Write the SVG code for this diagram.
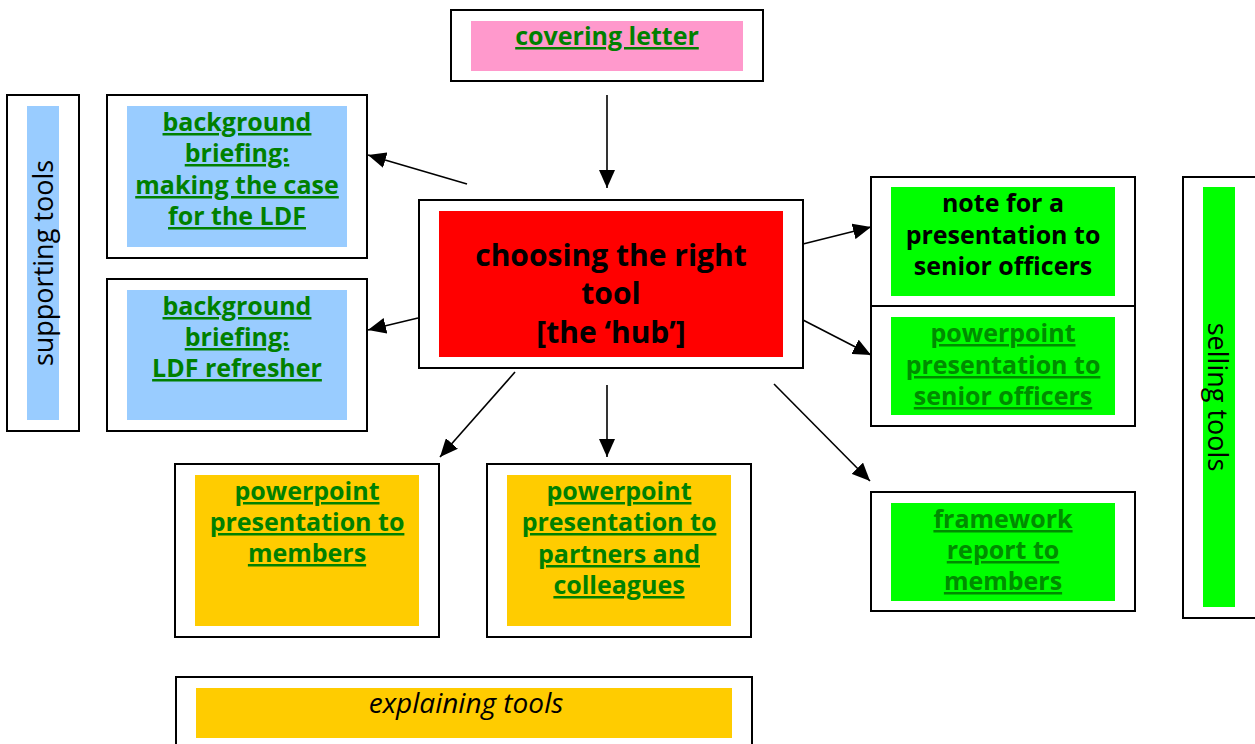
<svg xmlns="http://www.w3.org/2000/svg" width="1255" height="744" viewBox="0 0 1255 744">
<defs>
<style>
.outer{fill:#fff;stroke:#000;stroke-width:2}
.t{font-family:"Open Sans","DejaVu Sans",sans-serif;font-weight:bold;font-size:25px;text-anchor:middle}
.lk{fill:#008000;text-decoration:underline}
.lk2{fill:#008c00;text-decoration:underline}
.blk{fill:#000}
.side{font-family:"Open Sans","DejaVu Sans",sans-serif;font-size:27px;text-anchor:middle;fill:#000}
.conn{stroke:#000;stroke-width:1.6;fill:none;marker-end:url(#ah)}
</style>
<marker id="ah" markerUnits="userSpaceOnUse" viewBox="0 0 18 16" refX="18" refY="8" markerWidth="18" markerHeight="16" orient="auto">
<path d="M0,0 L18,8 L0,16 z" fill="#000"/>
</marker>
</defs>
<rect width="1255" height="744" fill="#fff"/>

<g id="covering-letter">
<rect class="outer" x="451" y="10" width="312" height="71"/>
<rect x="471" y="21" width="272" height="50" fill="#ff99cc"/>
<text class="t lk" x="607" y="45">covering letter</text>
</g>

<g id="supporting-tools">
<rect class="outer" x="7" y="95" width="72" height="336"/>
<rect x="27" y="106" width="32" height="314" fill="#99ccff"/>
<text class="side" transform="translate(53,263) rotate(-90)">supporting tools</text>
</g>

<g id="bg-case">
<rect class="outer" x="107" y="95" width="260" height="163"/>
<rect x="127" y="106" width="220" height="141" fill="#99ccff"/>
<text class="t lk" x="237" y="131">background</text>
<text class="t lk" x="237" y="162">briefing:</text>
<text class="t lk" x="237" y="194">making the case</text>
<text class="t lk" x="237" y="225">for the LDF</text>
</g>

<g id="bg-refresher">
<rect class="outer" x="107" y="279" width="260" height="152"/>
<rect x="127" y="290" width="220" height="130" fill="#99ccff"/>
<text class="t lk" x="237" y="315">background</text>
<text class="t lk" x="237" y="346">briefing:</text>
<text class="t lk" x="237" y="377">LDF refresher</text>
</g>

<g id="hub">
<rect class="outer" x="419" y="200" width="384" height="168"/>
<rect x="439" y="211" width="344" height="146" fill="#ff0000"/>
<text class="t blk" x="611" y="266" style="font-size:30px">choosing the right</text>
<text class="t blk" x="611" y="304" style="font-size:30px">tool</text>
<text class="t blk" x="611" y="343" style="font-size:30px">[the ‘hub’]</text>
</g>

<g id="note-senior">
<rect class="outer" x="871" y="177" width="264" height="129"/>
<rect x="891" y="187" width="224" height="109" fill="#00ff00"/>
<text class="t blk" x="1003" y="212">note for a</text>
<text class="t blk" x="1003" y="244">presentation to</text>
<text class="t blk" x="1003" y="275">senior officers</text>
</g>

<g id="pp-senior">
<rect class="outer" x="871" y="306" width="264" height="120"/>
<rect x="891" y="317" width="224" height="98" fill="#00ff00"/>
<text class="t lk2" x="1003" y="342">powerpoint</text>
<text class="t lk2" x="1003" y="374">presentation to</text>
<text class="t lk2" x="1003" y="405">senior officers</text>
</g>

<g id="selling-tools">
<rect class="outer" x="1183" y="177" width="74" height="441"/>
<rect x="1203" y="187" width="32" height="420" fill="#00ff00"/>
<text class="side" transform="translate(1208,397) rotate(90)">selling tools</text>
</g>

<g id="framework">
<rect class="outer" x="871" y="492" width="264" height="119"/>
<rect x="891" y="503" width="224" height="98" fill="#00ff00"/>
<text class="t lk2" x="1003" y="528">framework</text>
<text class="t lk2" x="1003" y="559">report to</text>
<text class="t lk2" x="1003" y="590">members</text>
</g>

<g id="pp-members">
<rect class="outer" x="175" y="464" width="264" height="173"/>
<rect x="195" y="475" width="224" height="151" fill="#ffcc00"/>
<text class="t lk" x="307" y="500">powerpoint</text>
<text class="t lk" x="307" y="531">presentation to</text>
<text class="t lk" x="307" y="562">members</text>
</g>

<g id="pp-partners">
<rect class="outer" x="487" y="464" width="264" height="173"/>
<rect x="507" y="475" width="224" height="151" fill="#ffcc00"/>
<text class="t lk" x="619" y="500">powerpoint</text>
<text class="t lk" x="619" y="531">presentation to</text>
<text class="t lk" x="619" y="563">partners and</text>
<text class="t lk" x="619" y="594">colleagues</text>
</g>

<g id="explaining-tools">
<rect class="outer" x="176" y="677" width="576" height="80"/>
<rect x="196" y="688" width="536" height="50" fill="#ffcc00"/>
<text x="466" y="713" style="font-family:'Open Sans','DejaVu Sans',sans-serif;font-style:italic;font-size:28px;text-anchor:middle;fill:#000">explaining tools</text>
</g>

<g id="connectors">
<line class="conn" x1="607" y1="95" x2="607" y2="188"/>
<line class="conn" x1="467" y1="184" x2="368" y2="155"/>
<line class="conn" x1="418" y1="318" x2="368" y2="330"/>
<line class="conn" x1="803" y1="244" x2="871" y2="227"/>
<line class="conn" x1="803" y1="320" x2="871" y2="355"/>
<line class="conn" x1="515" y1="372" x2="440" y2="457"/>
<line class="conn" x1="607" y1="385" x2="607" y2="457"/>
<line class="conn" x1="774" y1="384" x2="870" y2="481"/>
</g>
</svg>
